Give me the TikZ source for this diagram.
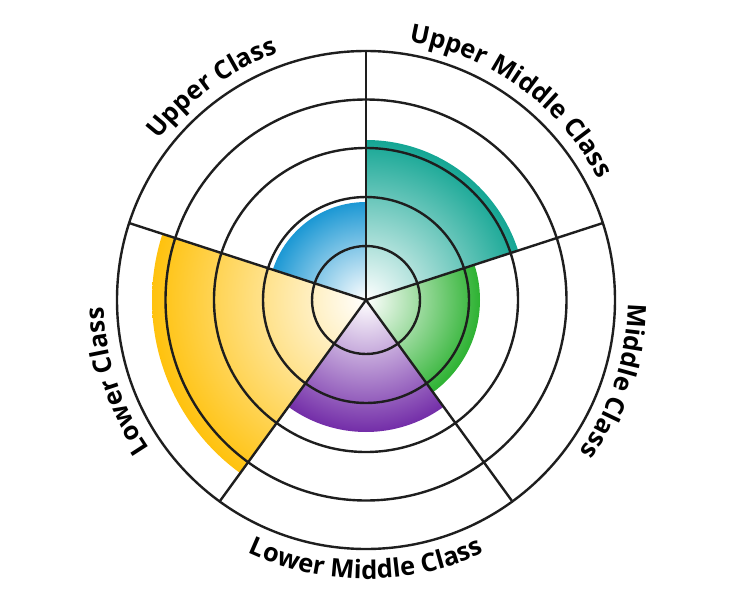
\documentclass[tikz,border=0pt]{standalone}
\usepackage{fontspec}
\setmainfont{Open Sans}
\usetikzlibrary{decorations.text}
\definecolor{cblue}{RGB}{28,152,212}
\definecolor{cteal}{RGB}{20,166,148}
\definecolor{cgreen}{RGB}{45,178,50}
\definecolor{cpurple}{RGB}{115,45,168}
\definecolor{cyellow}{RGB}{255,194,14}
\definecolor{cline}{RGB}{30,30,30}
\newcommand\lblfont{\bfseries\fontsize{25.5}{29}\selectfont}
\newcommand\polsector[4]{%
  \begin{scope}
    \clip (O) -- ([shift={(#1:#3)}]O) arc[start angle=#1,end angle=#2,radius=#3] -- cycle;
    \shade[inner color=white, outer color=#4] (O) circle[radius=#3];
  \end{scope}}
\begin{document}
\begin{tikzpicture}[x=1pt,y=1pt,
  ring/.style={line width=2.4pt, draw=cline},
  spoke/.style={line width=2.4pt, draw=cline, line cap=round},
  lbl/.style={decorate, decoration={text along path, text align=center, text={|\lblfont|#1}}}]
\useasboundingbox (0,0) rectangle (732,-600);
\coordinate (O) at (366,-300);
% coloured sectors
\polsector{90}{162}{98}{cblue}
\polsector{18}{90}{160}{cteal}
\polsector{-54}{18}{114}{cgreen}
\polsector{-126}{-54}{132}{cpurple}
\polsector{162}{234}{214}{cyellow}
% rings
\foreach \r in {54,103,152,200.5,249}
  \draw[ring] (O) circle[radius=\r];
% spokes
\foreach \a [count=\i] in {90,18,-54,-126,162}
  \coordinate (s\i) at ([shift={(\a:249)}]O);
\foreach \i in {1,...,5}
  \draw[spoke] (O) -- (s\i);
% labels
\path[lbl={Upper Class}] ([shift={(176:262)}]O) arc[start angle=176,end angle=76,radius=262];
\path[lbl={Upper Middle Class}] ([shift={(114:262)}]O) arc[start angle=114,end angle=-6,radius=262];
\path[lbl={Middle Class}] ([shift={(42:262)}]O) arc[start angle=42,end angle=-78,radius=262];
\path[lbl={Lower Middle Class}] ([shift={(210:279)}]O) arc[start angle=210,end angle=330,radius=279];
\path[lbl={Lower Class}] ([shift={(258:262)}]O) arc[start angle=258,end angle=138,radius=262];
\end{tikzpicture}
\end{document}
